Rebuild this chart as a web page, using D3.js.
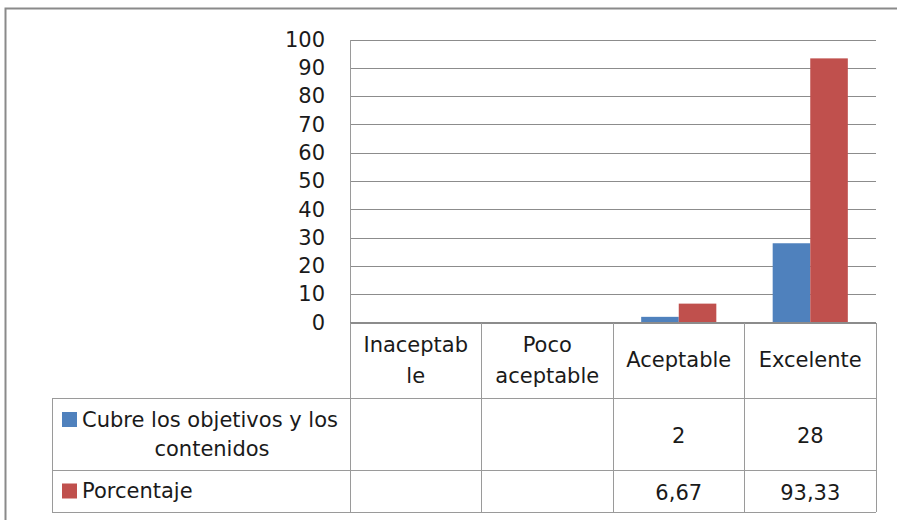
<!DOCTYPE html>
<html>
<head>
<meta charset="utf-8">
<script src="https://cdn.jsdelivr.net/npm/d3@7"></script>
<style>
  html, body { margin: 0; padding: 0; background: #fff; overflow: hidden; }
  svg { display: block; }
  text { font-family: "DejaVu Sans", sans-serif; fill: #1a1a1a; }
</style>
</head>
<body>
<svg id="chart" width="897" height="520"></svg>
<script>
// Categories (two-line header labels as shown in the data table)
const categories = ["Inaceptable", "Poco aceptable", "Aceptable", "Excelente"];
const categoryLines = [["Inaceptab", "le"], ["Poco", "aceptable"], ["Aceptable"], ["Excelente"]];

// Series
const seriesNames = ["Cubre los objetivos y los contenidos", "Porcentaje"];
const seriesLines = [["Cubre los objetivos y los", "contenidos"], ["Porcentaje"]];
const cubreValues = [null, null, 2, 28];
const porcentajeValues = [null, null, 6.67, 93.33];
const tableLabels = [["", "", "2", "28"], ["", "", "6,67", "93,33"]];
const seriesColors = ["#4F81BD", "#C0504D"];

// Y axis ticks
const yTicks = [0, 10, 20, 30, 40, 50, 60, 70, 80, 90, 100];

const FONT = "21px";
const svg = d3.select("#chart");
const plot = { left: 350, right: 876, top: 39.5, bottom: 322.5 };
const table = { legendLeft: 52, headerBottom: 398, row1Bottom: 470, row2Bottom: 512 };
const gridColor = "#8c8c8c";
const tableColor = "#9a9a9a";

// Chart area frame (left and top edges)
svg.append("path")
  .attr("d", "M5.5,530 L5.5,8.5 L910,8.5")
  .attr("fill", "none").attr("stroke", "#8a8a8a").attr("stroke-width", 2);

const y = d3.scaleLinear().domain([0, 100]).range([plot.bottom, plot.top]);
const x = d3.scaleBand().domain(categories).range([plot.left, plot.right]).padding(0);
const bw = x.bandwidth();
const barW = bw / 3.5;
const xs = d3.scaleBand().domain(seriesNames).range([bw * 0.75 / 3.5, bw * 0.75 / 3.5 + 2 * barW]).padding(0);

// Gridlines and tick labels
const yAxis = d3.axisLeft(y).tickValues(yTicks).tickSize(-(plot.right - plot.left)).tickPadding(25);
const gy = svg.append("g").attr("transform", `translate(${plot.left},0)`).call(yAxis);
gy.select(".domain").remove();
gy.selectAll(".tick line").attr("stroke", gridColor).attr("stroke-width", 1)
  .attr("shape-rendering", "crispEdges");
gy.selectAll(".tick text")
  .style("font-family", '"DejaVu Sans", sans-serif')
  .style("font-size", FONT).attr("fill", "#1a1a1a");

// Bars
const seriesData = [cubreValues, porcentajeValues];
seriesData.forEach((vals, si) => {
  svg.append("g").selectAll("rect")
    .data(categories.map((c, i) => ({ c, v: vals[i] })).filter(d => d.v != null))
    .join("rect")
    .attr("x", d => x(d.c) + xs(seriesNames[si]))
    .attr("width", xs.bandwidth())
    .attr("y", d => y(d.v))
    .attr("height", d => y(0) - y(d.v))
    .attr("fill", seriesColors[si]);
});

// Data table grid
const tg = svg.append("g").attr("stroke", tableColor).attr("stroke-width", 1)
  .attr("shape-rendering", "crispEdges");
const colEdges = categories.map(c => x(c)).concat([plot.right]);
tg.append("line").attr("x1", plot.left).attr("x2", plot.left).attr("y1", plot.top).attr("y2", table.row2Bottom);
colEdges.slice(1).forEach(e => {
  tg.append("line").attr("x1", e).attr("x2", e).attr("y1", plot.bottom).attr("y2", table.row2Bottom);
});
tg.append("line").attr("x1", table.legendLeft).attr("x2", table.legendLeft)
  .attr("y1", table.headerBottom).attr("y2", table.row2Bottom);
[table.headerBottom, table.row1Bottom, table.row2Bottom].forEach(yy => {
  tg.append("line").attr("x1", table.legendLeft).attr("x2", plot.right).attr("y1", yy).attr("y2", yy);
});
tg.append("line").attr("x1", plot.left).attr("x2", plot.right).attr("y1", plot.bottom).attr("y2", plot.bottom)
  .attr("stroke", gridColor);

// Header category labels
const lineH = 31;
categoryLines.forEach((lines, i) => {
  const cx = x(categories[i]) + bw / 2;
  const cy = (plot.bottom + table.headerBottom) / 2;
  lines.forEach((t, j) => {
    svg.append("text")
      .attr("x", cx)
      .attr("y", cy + (j - (lines.length - 1) / 2) * lineH)
      .attr("text-anchor", "middle").attr("dominant-baseline", "central")
      .style("font-size", FONT).text(t);
  });
});

// Series rows: legend key, name, values
const rowTops = [table.headerBottom, table.row1Bottom];
const rowBottoms = [table.row1Bottom, table.row2Bottom];
seriesLines.forEach((lines, si) => {
  const cy = (rowTops[si] + rowBottoms[si]) / 2;
  const firstY = cy - (lines.length - 1) / 2 * 29;
  svg.append("rect").attr("x", 62).attr("y", firstY - 7.5).attr("width", 15).attr("height", 15)
    .attr("fill", seriesColors[si]);
  lines.forEach((t, j) => {
    const isFirst = j === 0;
    svg.append("text")
      .attr("x", isFirst ? 82 : 212)
      .attr("y", firstY + j * 29)
      .attr("text-anchor", isFirst ? "start" : "middle").attr("dominant-baseline", "central")
      .style("font-size", FONT).text(t);
  });
  tableLabels[si].forEach((t, i) => {
    if (!t) return;
    svg.append("text")
      .attr("x", x(categories[i]) + bw / 2)
      .attr("y", cy + 2)
      .attr("text-anchor", "middle").attr("dominant-baseline", "central")
      .style("font-size", FONT).text(t);
  });
});
</script>
</body>
</html>
